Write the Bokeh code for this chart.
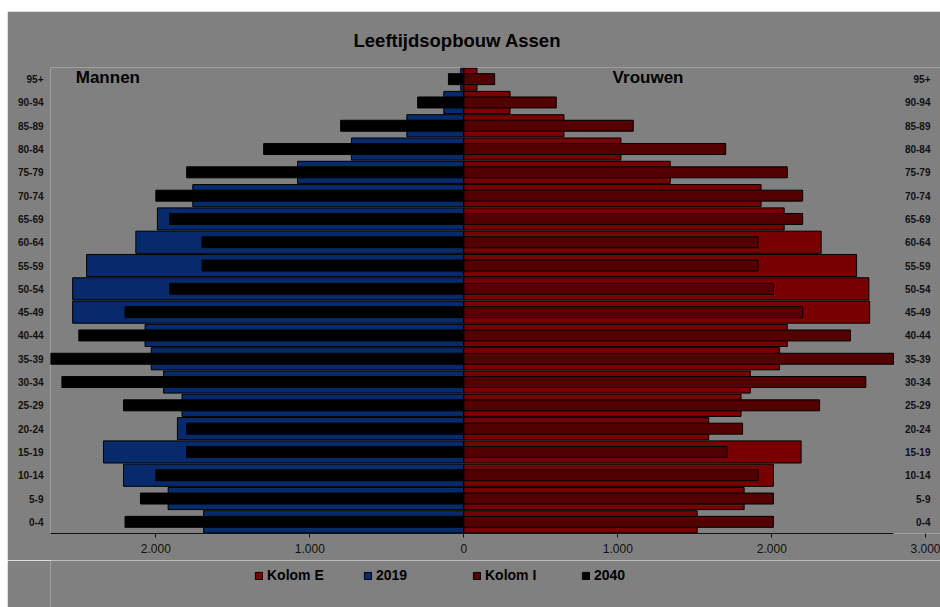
from bokeh.plotting import figure
from bokeh.models import (FactorRange, Range1d, FixedTicker, LinearAxis, Legend,
                          LegendItem, Title, Spacer)
from bokeh.layouts import column, row
from bokeh.core.properties import value
from bokeh.embed import file_html
from bokeh.resources import INLINE

# ---------------- data ----------------
age_groups = ["0-4", "5-9", "10-14", "15-19", "20-24", "25-29", "30-34", "35-39",
              "40-44", "45-49", "50-54", "55-59", "60-64", "65-69", "70-74",
              "75-79", "80-84", "85-89", "90-94", "95+"]
men_2019 = [1690, 1920, 2210, 2340, 1860, 1830, 1950, 2030, 2070, 2540,
            2540, 2450, 2130, 1990, 1760, 1080, 730, 370, 130, 20]
men_2040 = [2200, 2100, 2000, 1800, 1800, 2210, 2610, 2690, 2500, 2200,
            1910, 1700, 1700, 1910, 2000, 1800, 1300, 800, 300, 100]
women_2019 = [1515, 1820, 2010, 2190, 1590, 1800, 1860, 2050, 2100, 2635,
              2630, 2550, 2320, 2080, 1930, 1340, 1020, 650, 300, 85]
women_2040 = [2010, 2010, 1910, 1710, 1810, 2310, 2610, 2790, 2510, 2200,
              2010, 1910, 1910, 2200, 2200, 2100, 1700, 1100, 600, 200]
x_ticks = [-2000, -1000, 0, 1000, 2000, 3000]
x_tick_labels = ["2.000", "1.000", "0", "1.000", "2.000", "3.000"]
series_names = ["Kolom E", "2019", "Kolom I", "2040"]
title_text = "Leeftijdsopbouw Assen"
side_labels = ["Mannen", "Vrouwen"]

BG = "#808080"
BLUE = "#062a6c"
RED = "#780000"
DARKRED = "#520000"
BLACK = "#000000"
FONT = "Liberation Sans"

X_START, X_END = -2684, 3095      # visible span of the value scale
AXIS_END = 2790                   # where the drawn axis line stops
RIGHT_LABEL_X = 3030              # anchor of the right-hand age labels

p = figure(width=933, height=549, output_backend="svg", toolbar_location=None,
           y_range=FactorRange(factors=age_groups, range_padding=0),
           x_range=Range1d(X_START, X_END), x_axis_type=None,
           min_border_left=43, min_border_right=0, min_border_top=56, min_border_bottom=27)
p.background_fill_color = BG
p.border_fill_color = BG
p.outline_line_color = None
p.grid.grid_line_color = None

neg_m19 = [-v for v in men_2019]
neg_m40 = [-v for v in men_2040]

p.hbar(y=age_groups, left=neg_m19, right=0, height=0.95,
       fill_color=BLUE, line_color=BLACK, line_width=1)
p.hbar(y=age_groups, left=0, right=women_2019, height=0.95,
       fill_color=RED, line_color=BLACK, line_width=1)
p.hbar(y=age_groups, left=neg_m40, right=0, height=0.47,
       fill_color=BLACK, line_color=BLACK, line_width=1)
p.hbar(y=age_groups, left=0, right=women_2040, height=0.47,
       fill_color=DARKRED, line_color=BLACK, line_width=1)

# x axis: line only (limited extent)
axis_line = LinearAxis(bounds=(X_START, AXIS_END), ticker=FixedTicker(ticks=[]),
                       axis_line_color="#111111", major_tick_line_color=None,
                       minor_tick_line_color=None, major_tick_out=0, major_tick_in=0,
                       major_label_standoff=0, major_label_text_font_size="0px")
p.add_layout(axis_line, "below")

# x axis: ticks + labels
axis_lab = LinearAxis(ticker=FixedTicker(ticks=x_ticks),
                      major_label_overrides={t: l for t, l in zip(x_ticks, x_tick_labels)},
                      axis_line_color=None, major_tick_line_color="#111111",
                      minor_tick_line_color=None, major_tick_out=4, major_tick_in=0,
                      major_label_standoff=6, major_label_text_font=FONT,
                      major_label_text_font_size="12px", major_label_text_color="#111111")
p.add_layout(axis_lab, "below")

ya = p.yaxis[0]
ya.axis_line_color = None
ya.major_tick_line_color = None
ya.minor_tick_line_color = None
ya.major_tick_out = 0
ya.major_label_standoff = 7
ya.major_label_text_font = FONT
ya.major_label_text_font_size = "10px"
ya.major_label_text_font_style = "bold"
ya.major_label_text_color = "#111111"

# right-hand age labels
p.text(x=[RIGHT_LABEL_X] * len(age_groups), y=age_groups, text=age_groups,
       text_font=value(FONT), text_font_style="bold", text_font_size="10px",
       text_align="right", text_baseline="middle", text_color="#111111")

# side texts
p.text(x=[-2520, 966], y=[age_groups[-1], age_groups[-1]], text=side_labels,
       text_font=value(FONT), text_font_style="bold", text_font_size="17px",
       text_baseline="middle", text_align="left", text_color="#000000", y_offset=-2)

# title
p.title = Title(text=title_text, align="left", offset=303, standoff=33,
                text_font=FONT, text_font_size="18.5px", text_font_style="bold",
                text_color="#000000")

# ---------------- legend strip ----------------
lg = figure(width=933, height=47, output_backend="svg", toolbar_location=None,
            x_range=Range1d(0, 1), y_range=FactorRange(factors=age_groups),
            x_axis_type=None, y_axis_type=None, min_border=0, min_border_left=43)
lg.background_fill_color = BG
lg.border_fill_color = BG
lg.outline_line_color = None
lg.grid.grid_line_color = None

legend_series = [(women_2019, RED, 0.95), (men_2019, BLUE, 0.95),
                 (women_2040, DARKRED, 0.47), (men_2040, BLACK, 0.47)]
legend_renderers = [lg.hbar(y=age_groups, left=0, right=vals, height=h, fill_color=c,
                            line_color=BLACK, line_width=1, visible=False)
                    for vals, c, h in legend_series]

legend = Legend(items=[LegendItem(label=n, renderers=[r])
                       for n, r in zip(series_names, legend_renderers)],
                orientation="horizontal", location=(204, 24),
                background_fill_alpha=0, border_line_color=None,
                inactive_fill_alpha=0,
                glyph_width=9, glyph_height=9, label_standoff=4, label_width=70,
                spacing=26, padding=4, margin=0,
                label_text_font=FONT, label_text_font_size="14px",
                label_text_font_style="bold", label_text_color="#000000")
lg.add_layout(legend)

layout = column(Spacer(width=940, height=11),
                row(Spacer(width=7, height=596), column(p, lg)))

open("out.html", "w").write(file_html(layout, INLINE))
